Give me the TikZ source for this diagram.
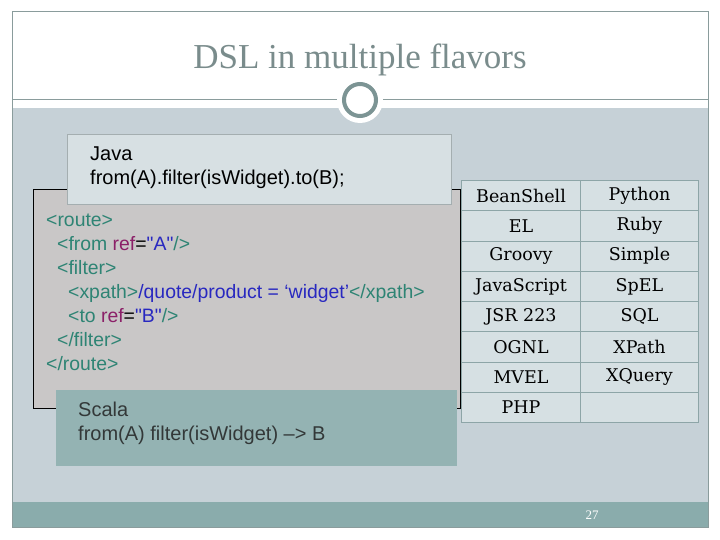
\documentclass[tikz,border=0pt]{standalone}
\usepackage{fontspec}
\setmainfont{Liberation Serif}
\newfontfamily\codefont{Liberation Sans}
\newfontfamily\tabfont{DejaVu Serif}
\definecolor{band}{HTML}{C6D1D7}
\definecolor{footer}{HTML}{8AACAC}
\definecolor{frame}{HTML}{8A9C9C}
\definecolor{ringc}{HTML}{7C9494}
\definecolor{titlec}{HTML}{7A8C8C}
\definecolor{javafill}{HTML}{D7E0E3}
\definecolor{javaline}{HTML}{A4AEB0}
\definecolor{xmlfill}{HTML}{C9C7C7}
\definecolor{scalafill}{HTML}{94B3B3}
\definecolor{tabfill}{HTML}{D6E0E3}
\definecolor{tabline}{HTML}{8DA5A7}
\definecolor{tagc}{HTML}{2E8474}
\definecolor{refc}{HTML}{8B2068}
\definecolor{valc}{HTML}{2828C0}
\definecolor{darktext}{HTML}{333838}
\newcommand{\tg}[1]{\textcolor{tagc}{#1}}
\newcommand{\rf}[1]{\textcolor{refc}{#1}}
\newcommand{\vl}[1]{\textcolor{valc}{#1}}
\begin{document}
\begin{tikzpicture}[x=1pt,y=-1pt,
  box/.style={anchor=north west,inner sep=0pt,outer sep=0pt},
  codetext/.style={anchor=base west,inner sep=0pt,text=black,font=\codefont\fontsize{20}{24}\selectfont},
  xmltext/.style={anchor=base west,inner sep=0pt,text=black,font=\codefont\fontsize{19.4}{24}\selectfont},
  scalatext/.style={anchor=base west,inner sep=0pt,text=darktext,font=\codefont\fontsize{20}{24}\selectfont},
  cell/.style={draw=tabline,fill=tabfill,line width=1pt,minimum height=30.25pt,inner sep=0pt,font=\tabfont\fontsize{17.5}{20}\selectfont,text=black}
]
\useasboundingbox (0,0) rectangle (720,540);
\fill[white] (0,0) rectangle (720,540);
\fill[band] (12,108) rectangle (708,502);
\fill[footer] (12,502) rectangle (708,527);
\draw[frame,line width=1pt] (12,12) rectangle (708,527);
\draw[frame,line width=1pt] (12,100) -- (708,100);
\fill[white] (360,100) circle (23pt);
\draw[ringc,line width=4pt] (360,100) circle (16pt);
\node[text=titlec,font=\fontsize{35}{40}\selectfont,anchor=base] (title) at (360,69) {DSL in multiple flavors};

% XML box
\node[box,draw=black,line width=1pt,fill=xmlfill,minimum width=427pt,minimum height=218pt] (xmlbox) at (33,190) {};
% Java box
\node[box,draw=javaline,line width=1pt,fill=javafill,minimum width=384pt,minimum height=70pt] (javabox) at (67,135) {};
\node[codetext] (j1) at (90,161) {Java};
\node[codetext] (j2) at (90,185) {from(A).filter(isWidget).to(B);};

% XML text
\node[xmltext] (x1) at (46,226.7) {\tg{<route>}};
\node[xmltext] (x2) at (57,250.7) {\tg{<from }\rf{ref}=\vl{"A"}\tg{/>}};
\node[xmltext] (x3) at (57,274.7) {\tg{<filter>}};
\node[xmltext] (x4) at (68,298.7) {\tg{<xpath>}\vl{/quote/product = ‘widget’}\tg{</xpath>}};
\node[xmltext] (x5) at (68,322.7) {\tg{<to }\rf{ref}=\vl{"B"}\tg{/>}};
\node[xmltext] (x6) at (57,346.7) {\tg{</filter>}};
\node[xmltext] (x7) at (46,370.7) {\tg{</route>}};

% Scala box
\node[box,fill=scalafill,minimum width=401pt,minimum height=76pt] (scalabox) at (56,390) {};
\node[scalatext] (s1) at (78,416) {Scala};
\node[scalatext] (s2) at (78,440) {from(A) filter(isWidget) \textendash> B};

% Table
\foreach \a/\b [count=\i] in {BeanShell/Python,EL/Ruby,Groovy/Simple,JavaScript/SpEL,JSR 223/SQL,OGNL/XPath,MVEL/XQuery,PHP/{}}{
  \node[cell,minimum width=119pt,anchor=north west] (c1r\i) at (461,{180+30.25*(\i-1)}) {\a};
  \node[cell,minimum width=118pt,anchor=north west] (c2r\i) at (580,{180+30.25*(\i-1)}) {\b};
}

\node[text=white,font=\fontsize{13}{15}\selectfont,anchor=base] (pagenum) at (592,519) {27};
\end{tikzpicture}
\end{document}
